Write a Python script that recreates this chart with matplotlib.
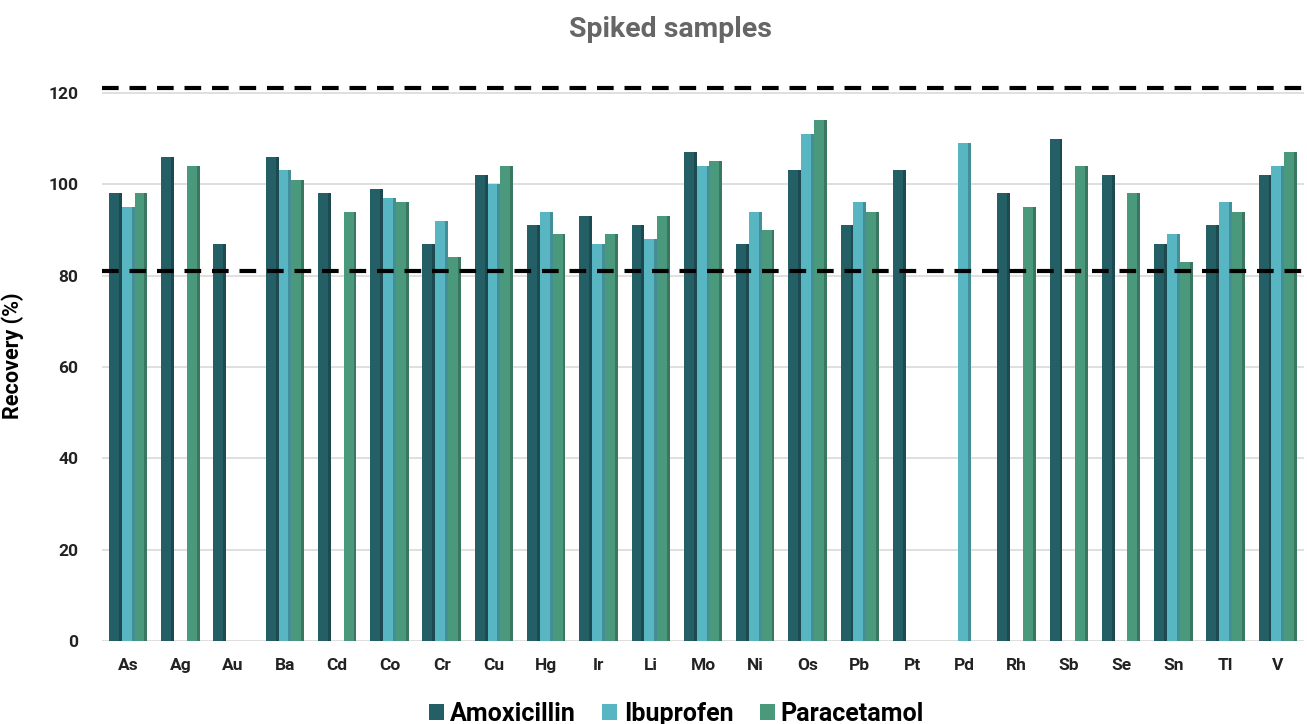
import matplotlib.pyplot as plt
import matplotlib.colors as mcolors
import numpy as np

nan = np.nan

elements = ["As", "Ag", "Au", "Ba", "Cd", "Co", "Cr", "Cu", "Hg", "Ir", "Li", "Mo",
            "Ni", "Os", "Pb", "Pt", "Pd", "Rh", "Sb", "Se", "Sn", "Tl", "V"]

amoxicillin = [98, 106, 87, 106, 98, 99, 87, 102, 91, 93, 91, 107,
               87, 103, 91, 103, nan, 98, 110, 102, 87, 91, 102]
ibuprofen = [95, nan, nan, 103, nan, 97, 92, 100, 94, 87, 88, 104,
             94, 111, 96, nan, 109, nan, nan, nan, 89, 96, 104]
paracetamol = [98, 104, nan, 101, 94, 96, 84, 104, 89, 89, 93, 105,
               90, 114, 94, nan, nan, 95, 104, 98, 83, 94, 107]

series_names = ["Amoxicillin", "Ibuprofen", "Paracetamol"]
series_colors = ["#255F66", "#57B6C2", "#4A997C"]
limits = [80, 120]

plt.rcParams["font.family"] = ["Roboto", "DejaVu Sans"]
plt.rcParams["font.weight"] = "bold"
plt.rcParams["axes.labelweight"] = "bold"

fig = plt.figure(figsize=(13.07, 7.24), dpi=100)
ax = fig.add_axes([102 / 1307, 83 / 724, 1202 / 1307, 571 / 724])

x = np.arange(len(elements))
face_w = 0.19
side_w = 0.055
step = face_w + side_w
start = -1.5 * step

for i, (vals, color) in enumerate(zip([amoxicillin, ibuprofen, paracetamol], series_colors)):
    left = x + start + i * step
    vals = np.array(vals, dtype=float)
    side = tuple(c * 0.78 for c in mcolors.to_rgb(color))
    ax.bar(left, vals, width=face_w, align="edge", color=color, zorder=3, label=series_names[i])
    ax.bar(left + face_w, vals, width=side_w, align="edge", color=side, zorder=3)

# acceptance limits (drawn on the back wall in the original, hence the small lift)
for lim in limits:
    ax.axhline(lim + 1, color="black", lw=3, ls=(0, (4, 2.6)), zorder=4)

ax.set_xlim(-0.5, len(elements) - 0.5)
ax.set_ylim(0, 125)
ax.set_yticks([0, 20, 40, 60, 80, 100, 120])
ax.set_xticks(x)
ax.set_xticklabels(elements)
ax.tick_params(length=0, labelsize=12.5, colors="#222222")
ax.tick_params(axis="y", pad=17)
ax.tick_params(axis="x", pad=12)
ax.grid(True, axis="y", color="#D9D9D9", lw=1.2, zorder=0)
for s in ax.spines.values():
    s.set_visible(False)

ax.set_ylabel("Recovery (%)", fontsize=15.5)
ax.yaxis.set_label_coords(-0.065, 0.5)
fig.suptitle("Spiked samples", x=0.513, y=0.978, fontsize=20.5, color="#666666", fontweight="bold")

handles, labels = ax.get_legend_handles_labels()
fig.legend(handles, labels, loc="center", bbox_to_anchor=(0.5176, 0.014), ncol=3, frameon=False,
           fontsize=18, handlelength=0.6, handleheight=0.6, handletextpad=0.25, columnspacing=1.05)

fig.savefig("out.png", dpi=100)
